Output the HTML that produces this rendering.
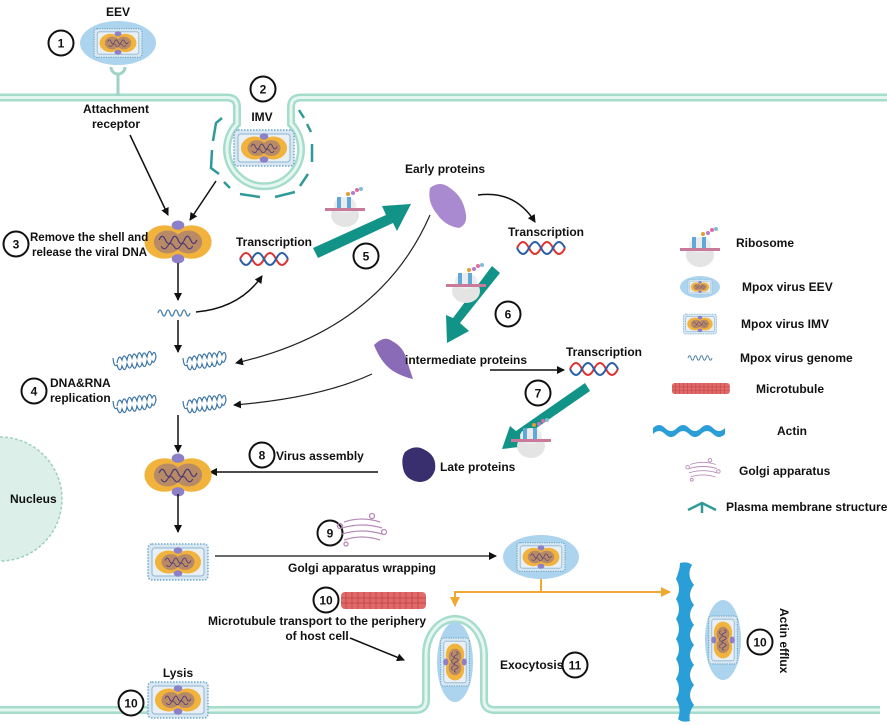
<!DOCTYPE html>
<html><head><meta charset="utf-8"><style>
html,body{margin:0;padding:0;background:#fff}
svg{display:block}
text{font-family:"Liberation Sans",Arial,sans-serif;font-weight:bold;font-size:12px;fill:#111}
</style></head><body>
<svg width="887" height="725" viewBox="0 0 887 725" xmlns="http://www.w3.org/2000/svg">
<defs>
<marker id="ah" markerWidth="8" markerHeight="8" refX="7" refY="4" orient="auto" markerUnits="userSpaceOnUse"><path d="M0,0 L8,4 L0,8 Z" fill="#111"/></marker>
<marker id="oh" markerWidth="10" markerHeight="10" refX="9" refY="5" orient="auto" markerUnits="userSpaceOnUse"><path d="M0,0 L10,5 L0,10 Z" fill="#f0a830"/></marker>
<g id="core">
<ellipse cx="-13" cy="0" rx="19" ry="16" fill="#f2b33d"/>
<ellipse cx="13" cy="0" rx="19" ry="16" fill="#f2b33d"/>
<ellipse cx="0" cy="0" rx="22" ry="10" fill="#f2b33d"/>
<ellipse cx="-10" cy="0" rx="13" ry="11" fill="#b98a66"/>
<ellipse cx="10" cy="0" rx="13" ry="11" fill="#b98a66"/>
<path d="M-18,-2 q3,-7 6,0 t6,0 t6,0 t6,0 t6,0 t6,0" fill="none" stroke="#4a3a7a" stroke-width="1.2"/>
<path d="M-16,4 q3,5 6,0 t6,0 t6,0 t6,0 t6,0" fill="none" stroke="#4a3a7a" stroke-width="1"/>
<ellipse cx="0" cy="-16" rx="6" ry="4.5" fill="#8d80c8"/>
<ellipse cx="0" cy="16" rx="6" ry="4.5" fill="#8d80c8"/>
</g>
<g id="imv">
<rect x="-30" y="-18" width="60" height="36" rx="4" fill="#d9e7f2" stroke="#6fa9c9" stroke-width="1.5" stroke-dasharray="1.5 1.5"/>
<rect x="-26" y="-14" width="52" height="28" rx="3" fill="#e8f0f6" stroke="#8bb6cf" stroke-width="1"/>
<use href="#core" transform="scale(0.72)"/>
</g>
<g id="eev">
<ellipse cx="0" cy="0" rx="38" ry="22" fill="#acd4ee"/>
<use href="#imv" transform="scale(0.8)"/>
</g>
<g id="helix">
<path d="M0,0 q6,-12 12,0 t12,0 t12,0 t12,0" fill="none" stroke="#d33" stroke-width="2"/>
<path d="M0,0 q6,12 12,0 t12,0 t12,0 t12,0" fill="none" stroke="#2a5fa8" stroke-width="2"/>
</g>
<g id="gen"><path d="M0,0 q2,-6 4,0 t4,0 q2,-6 4,0 t4,0 q2,-6 4,0 t4,0 q2,-6 4,0 t4,0" fill="none" stroke="#4a7fa8" stroke-width="1.3"/></g>
<g id="rep"><path d="M-20,0 q2,-10 5,-3 q2,-8 5,0 q2,-10 5,-2 q2,-8 5,0 q2,-10 5,-1 q2,-8 5,0 q2,-10 5,-2 q3,-6 4,2 q-2,8 -4,4 q-2,8 -5,0 q-2,10 -5,2 q-2,8 -5,0 q-2,10 -5,1 q-2,8 -5,0 q-2,10 -5,2 q-2,8 -5,-1 q-3,3 -4,-7" fill="none" stroke="#3c75a8" stroke-width="1.2"/></g>
<g id="ribo">
<ellipse cx="0" cy="8" rx="14" ry="12" fill="#e4e4e4"/>
<ellipse cx="0" cy="-2" rx="11" ry="8" fill="#ececec"/>
<rect x="-20" y="1" width="40" height="3" fill="#c97a9a"/>
<rect x="-8" y="-10" width="4" height="11" fill="#5fa8d8"/>
<rect x="2" y="-10" width="4" height="11" fill="#5fa8d8"/>
<circle cx="8" cy="-14" r="2" fill="#b77ad0"/><circle cx="12" cy="-17" r="2" fill="#e06ca0"/><circle cx="16" cy="-18" r="2" fill="#7ac0d8"/><circle cx="3" cy="-13" r="2" fill="#e0a030"/>
</g>
<g id="mt"><rect x="0" y="0" width="85" height="17" rx="4" fill="#e06a6a"/>
<path d="M5,0 v17 M11,0 v17 M17,0 v17 M23,0 v17 M29,0 v17 M35,0 v17 M41,0 v17 M47,0 v17 M53,0 v17 M59,0 v17 M65,0 v17 M71,0 v17 M77,0 v17 M0,6 h85 M0,11 h85" stroke="#c84848" stroke-width="1"/></g>
<g id="golgi" fill="none" stroke="#b88ab8" stroke-width="1.3">
<path d="M-18,-8 q18,-6 36,0 M-20,-2 q20,-6 40,0 M-20,4 q20,-6 40,0 M-18,10 q18,-6 36,0"/>
<circle cx="-22" cy="-4" r="2.5"/><circle cx="22" cy="2" r="2.5"/><circle cx="10" cy="-14" r="2.5"/><circle cx="-16" cy="14" r="2"/>
</g>
<g id="c"><circle r="12.5" fill="#fff" stroke="#111" stroke-width="2"/></g>
</defs>

<path d="M0,437 A62,62 0 0 1 0,561 Z" fill="#dcefe9"/>
<path d="M0,437 A62,62 0 0 1 0,561" fill="none" stroke="#9fcfc2" stroke-width="1.5" stroke-dasharray="3 2"/>
<text x="10" y="503">Nucleus</text>

<g fill="none" stroke-linecap="round">
<path d="M0,97.5 H227 Q237,97.5 237,107 V124 A37,37 0 1 0 291,124 V107 Q291,97.5 301,97.5 H887" stroke="#a6dccc" stroke-width="8"/>
<path d="M0,97.5 H227 Q237,97.5 237,107 V124 A37,37 0 1 0 291,124 V107 Q291,97.5 301,97.5 H887" stroke="#e6f6f1" stroke-width="3"/>
</g>
<path d="M222,118 l-6,5 l-3,18 M212,150 l-1,18 l8,6 M224,182 l6,6 M240,194 l20,3 M275,197 l20,-5 M300,186 l8,-12 M312,162 l0,-18 M311,132 l-4,-8 M304,118 l-5,-8" stroke="#2f9a98" stroke-width="2.5" fill="none"/>

<use href="#eev" transform="translate(118,43)"/>
<use href="#c" transform="translate(61,43)"/><text x="61" y="47.5" text-anchor="middle">1</text>
<text x="118" y="16" text-anchor="middle">EEV</text>
<path d="M111,67 a7,7 0 0 0 14,0" fill="none" stroke="#9fd3c6" stroke-width="3"/>
<line x1="118" y1="74" x2="118" y2="96" stroke="#9fd3c6" stroke-width="3"/>
<text x="116" y="113" text-anchor="middle">Attachment</text>
<text x="116" y="128" text-anchor="middle">receptor</text>

<use href="#c" transform="translate(263,89)"/><text x="263" y="93.5" text-anchor="middle">2</text>
<text x="262" y="121" text-anchor="middle">IMV</text>
<use href="#imv" transform="translate(264,148)"/>

<line x1="130" y1="135" x2="168" y2="215" stroke="#111" stroke-width="1.5" marker-end="url(#ah)"/>
<line x1="216" y1="181" x2="190" y2="220" stroke="#111" stroke-width="1.5" marker-end="url(#ah)"/>

<use href="#core" transform="translate(178,242) scale(1.05)"/>
<use href="#c" transform="translate(16,244)"/><text x="16" y="248.5" text-anchor="middle">3</text>
<text x="30" y="241" style="font-size:11.5px">Remove the shell and</text>
<text x="32" y="256" style="font-size:11.5px">release the viral DNA</text>

<line x1="178" y1="263" x2="178" y2="300" stroke="#111" stroke-width="1.5" marker-end="url(#ah)"/>
<use href="#gen" transform="translate(158,313)"/>
<line x1="178" y1="320" x2="178" y2="352" stroke="#111" stroke-width="1.5" marker-end="url(#ah)"/>
<path d="M196,312 Q240,308 262,276" fill="none" stroke="#111" stroke-width="1.5" marker-end="url(#ah)"/>

<text x="236" y="246">Transcription</text>
<use href="#helix" transform="translate(240,259)"/>

<polygon points="313,248 386,215 382,206 411,204 397,231 393,223 318,258" fill="#119387"/>
<use href="#ribo" transform="translate(345,207)"/>
<use href="#c" transform="translate(366,256)"/><text x="366" y="260.5" text-anchor="middle">5</text>

<text x="405" y="173">Early proteins</text>
<path d="M430,188 q10,-8 20,0 q12,8 15,22 q4,14 -6,18 q-14,-2 -22,-14 q-10,-12 -7,-26 z" fill="#a98ad0"/>
<path d="M478,195 Q515,190 535,222" fill="none" stroke="#111" stroke-width="1.5" marker-end="url(#ah)"/>
<text x="508" y="236">Transcription</text>
<use href="#helix" transform="translate(517,248)"/>

<polygon points="492,266 500,273 460,323 469,331 447,343 446,315 453,318" fill="#119387"/>
<use href="#ribo" transform="translate(466,283)"/>
<use href="#c" transform="translate(508,314)"/><text x="508" y="318.5" text-anchor="middle">6</text>

<path d="M374,345 q10,-10 18,-4 q12,6 15,20 q4,12 6,18 q-10,-2 -20,-8 q-12,-8 -19,-26 z" fill="#8a6bb8"/>
<text x="405" y="364">intermediate proteins</text>
<line x1="490" y1="370" x2="564" y2="370" stroke="#111" stroke-width="1.5" marker-end="url(#ah)"/>
<text x="566" y="356">Transcription</text>
<use href="#helix" transform="translate(570,369)"/>

<polygon points="585,383 590,391 522,438 528,446 502,449 510,426 516,431" fill="#119387"/>
<use href="#ribo" transform="translate(531,438)"/>
<use href="#c" transform="translate(538,393)"/><text x="538" y="397.5" text-anchor="middle">7</text>

<path d="M405,452 q10,-8 20,-2 q12,6 10,20 q-4,12 -16,12 q-14,-2 -16,-14 q-2,-10 2,-16 z" fill="#3a2f6e"/>
<text x="440" y="471">Late proteins</text>
<line x1="378" y1="472" x2="210" y2="472" stroke="#111" stroke-width="1.5" marker-end="url(#ah)"/>
<use href="#c" transform="translate(262,455)"/><text x="262" y="459.5" text-anchor="middle">8</text>
<text x="276" y="460">Virus assembly</text>

<use href="#rep" transform="translate(137,363)"/>
<use href="#rep" transform="translate(207,363)"/>
<use href="#rep" transform="translate(137,406)"/>
<use href="#rep" transform="translate(207,406)"/>
<path d="M430,215 Q380,330 236,363" fill="none" stroke="#222" stroke-width="1.2" marker-end="url(#ah)"/>
<path d="M372,374 Q320,398 234,405" fill="none" stroke="#222" stroke-width="1.2" marker-end="url(#ah)"/>
<use href="#c" transform="translate(34,391)"/><text x="34" y="395.5" text-anchor="middle">4</text>
<text x="50" y="387">DNA&amp;RNA</text>
<text x="50" y="402">replication</text>

<line x1="178" y1="415" x2="178" y2="452" stroke="#111" stroke-width="1.5" marker-end="url(#ah)"/>
<use href="#core" transform="translate(178,475) scale(1.05)"/>
<line x1="178" y1="494" x2="178" y2="532" stroke="#111" stroke-width="1.5" marker-end="url(#ah)"/>
<use href="#imv" transform="translate(178,562)"/>

<line x1="215" y1="556" x2="496" y2="556" stroke="#111" stroke-width="1.3" marker-end="url(#ah)"/>
<text x="288" y="572">Golgi apparatus wrapping</text>
<use href="#c" transform="translate(330,533)"/><text x="330" y="537.5" text-anchor="middle">9</text>
<use href="#golgi" transform="translate(362,530)"/>
<use href="#eev" transform="translate(541,557)"/>

<path d="M541,579 V592 H455 V606" fill="none" stroke="#f0a830" stroke-width="2" marker-end="url(#oh)"/>
<line x1="541" y1="592" x2="670" y2="592" stroke="#f0a830" stroke-width="2" marker-end="url(#oh)"/>

<use href="#c" transform="translate(326,600)"/><text x="326" y="604.5" text-anchor="middle">10</text>
<use href="#mt" transform="translate(341,592)"/>
<text x="317" y="625" text-anchor="middle">Microtubule transport to the periphery</text>
<text x="317" y="640" text-anchor="middle">of host cell</text>
<line x1="350" y1="638" x2="404" y2="660" stroke="#111" stroke-width="1.5" marker-end="url(#ah)"/>

<g fill="none">
<path d="M0,710 H415 Q426,710 426,700 V655 A29,36 0 0 1 484,655 V700 Q484,710 495,710 H880" stroke="#a6dccc" stroke-width="8"/>
<path d="M0,710 H415 Q426,710 426,700 V655 A29,36 0 0 1 484,655 V700 Q484,710 495,710 H880" stroke="#e6f6f1" stroke-width="3"/>
</g>
<ellipse cx="455" cy="662" rx="18" ry="40" fill="#acd4ee"/>
<use href="#imv" transform="translate(455,662) rotate(90) scale(0.8)"/>
<text x="500" y="669">Exocytosis</text>
<use href="#c" transform="translate(575,665)"/><text x="575" y="669.5" text-anchor="middle">11</text>

<g fill="#2a9ed6">
<path d="M680,563 q8,-2 12,2 q-6,10 2,20 q-8,10 0,20 q-8,10 0,20 q-8,10 0,20 q-8,10 0,20 q-8,10 0,20 q-8,10 0,20 q-6,8 -4,16 q-8,2 -12,-2 q4,-10 -2,-20 q6,-10 0,-20 q6,-10 0,-20 q6,-10 0,-20 q6,-10 0,-20 q6,-10 0,-20 q6,-10 0,-20 q4,-10 4,-16 z"/>
</g>
<ellipse cx="723" cy="640" rx="18" ry="40" fill="#acd4ee"/>
<use href="#imv" transform="translate(723,640) rotate(90) scale(0.8)"/>
<use href="#c" transform="translate(760,642)"/><text x="760" y="646.5" text-anchor="middle">10</text>
<text x="0" y="0" transform="translate(780,608) rotate(90)">Actin efflux</text>

<text x="178" y="677" text-anchor="middle">Lysis</text>
<use href="#imv" transform="translate(178,700)"/>
<use href="#c" transform="translate(131,703)"/><text x="131" y="707.5" text-anchor="middle">10</text>

<use href="#ribo" transform="translate(700,247)"/>
<text x="736" y="247">Ribosome</text>
<ellipse cx="700" cy="287" rx="20" ry="11" fill="#acd4ee"/>
<use href="#imv" transform="translate(700,287) scale(0.4)"/>
<text x="742" y="291">Mpox virus EEV</text>
<use href="#imv" transform="translate(700,324) scale(0.55)"/>
<text x="741" y="328">Mpox virus IMV</text>
<use href="#gen" transform="translate(688,358) scale(0.75)"/>
<text x="740" y="362">Mpox virus genome</text>
<use href="#mt" transform="translate(672,383) scale(0.68,0.65)"/>
<text x="756" y="393">Microtubule</text>
<path d="M653,428 q6,-6 12,0 t12,0 t12,0 t12,0 t12,0 t12,0 l0,6 q-6,6 -12,0 t-12,0 t-12,0 t-12,0 t-12,0 t-12,0 z" fill="#2a9ed6"/>
<text x="777" y="435">Actin</text>
<use href="#golgi" transform="translate(703,470) scale(0.7)"/>
<text x="739" y="475">Golgi apparatus</text>
<path d="M688,510 L702,503 L716,510 M702,503 V513" fill="none" stroke="#2f9a98" stroke-width="2.5"/>
<text x="726" y="511">Plasma membrane structure</text>
</svg>
</body></html>
